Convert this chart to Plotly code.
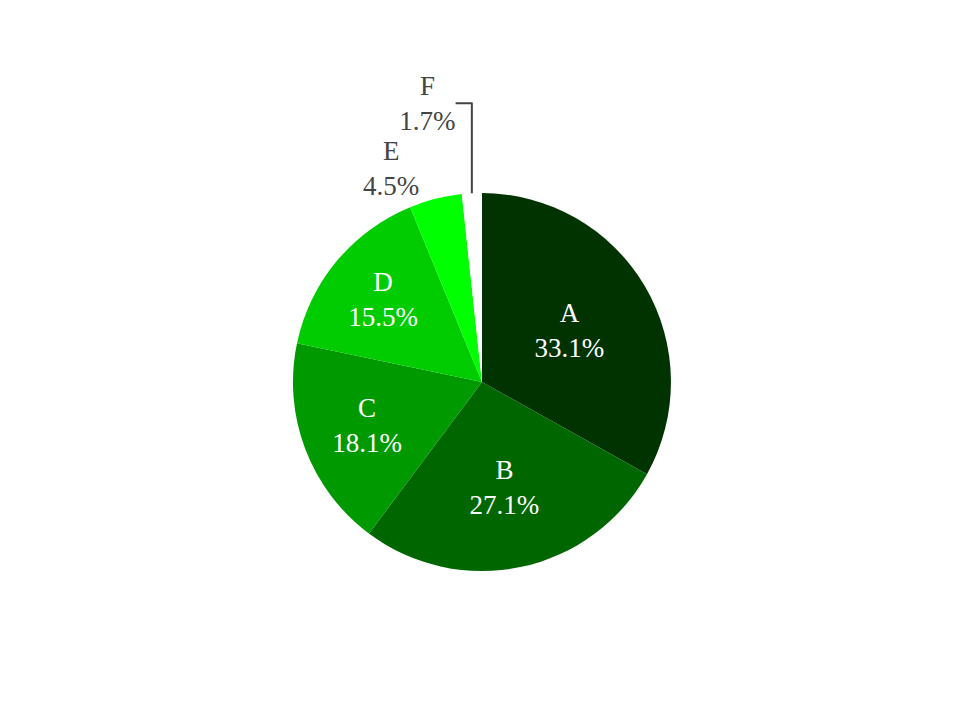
import plotly.graph_objects as go

labels = ["A", "B", "C", "D", "E", "F"]
values = [33.1, 27.1, 18.1, 15.5, 4.5, 1.7]
colors = ["#003300", "#006600", "#009900", "#00CC00", "#00FF00", "#FFFFFF"]

fig = go.Figure(go.Pie(
    labels=labels,
    values=values,
    sort=False,
    direction="clockwise",
    rotation=0,
    marker=dict(colors=colors, line=dict(color="#FFFFFF", width=0)),
    textinfo="label+percent",
    textposition="auto",
    insidetextorientation="horizontal",
    insidetextfont=dict(color="#FFFFFF"),
    outsidetextfont=dict(color="#444444"),
    texttemplate="%{label}<br>%{percent:.1%}",
    showlegend=False,
    domain=dict(x=[0.1927, 0.7947], y=[0.2180, 0.7430]),
))
fig.update_layout(
    width=960, height=720,
    margin=dict(l=0, r=0, t=0, b=0),
    font=dict(family="Liberation Serif", size=27),
    paper_bgcolor="white",
    showlegend=False,
)
fig.write_html("out.html")
